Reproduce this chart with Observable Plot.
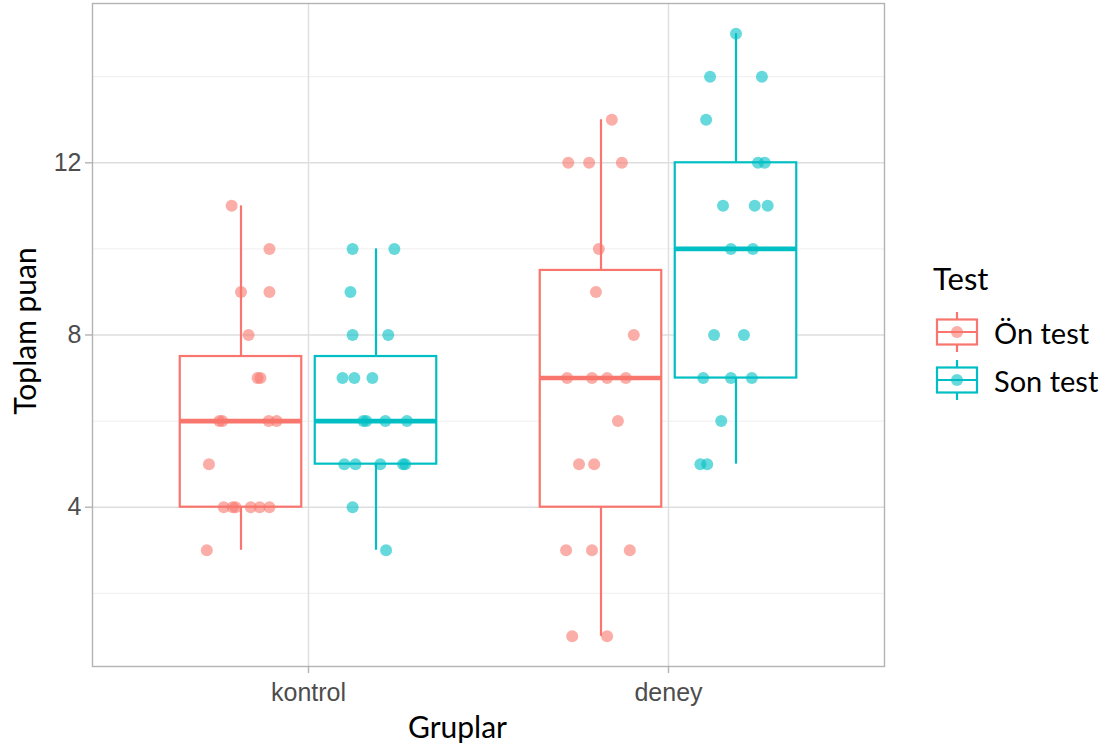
<!DOCTYPE html>
<html><head><meta charset="utf-8">
<script src="https://cdn.jsdelivr.net/npm/d3@7"></script>
<script src="https://cdn.jsdelivr.net/npm/@observablehq/plot@0.6"></script>
<style>
body{margin:0;background:#fff;}
#wrap{position:relative;width:1116px;height:753px;overflow:hidden;}
#legend{position:absolute;left:933px;top:258px;font-family:Lato,"Open Sans",sans-serif;color:#000;}
#legend .title{font-size:31px;line-height:40px;margin-bottom:10px;}
#legend .item{display:flex;align-items:center;height:48px;}
#legend .item span{font-size:29px;margin-left:13px;}
</style></head><body><div id="wrap"><div id="chart"></div><div id="legend"></div></div>
<script>
const groups = ["kontrol", "deney"];
const tests = ["Ön test", "Son test"];
const colors = ["#F8766D", "#00BFC4"];
const yTicks = [4, 8, 12];
const yMinor = [2, 6, 10, 14];

const kontrolOnValues = [11, 10, 9, 9, 8, 7, 7, 6, 6, 6, 6, 5, 4, 4, 4, 4, 4, 4, 3];
const kontrolOnJitter = [-0.026, 0.079, 0.000, 0.079, 0.021, 0.046, 0.054, -0.060, -0.052, 0.077, 0.099, -0.089, -0.048, -0.023, -0.015, 0.027, 0.052, 0.079, -0.095];
const kontrolSonValues = [10, 10, 9, 8, 8, 7, 7, 7, 6, 6, 6, 6, 5, 5, 5, 5, 5, 4, 3];
const kontrolSonJitter = [-0.065, 0.051, -0.071, -0.065, 0.034, -0.093, -0.060, -0.010, -0.035, -0.027, 0.026, 0.086, -0.088, -0.057, 0.012, 0.075, 0.081, -0.065, 0.028];
const deneyOnValues = [13, 12, 12, 12, 10, 9, 8, 7, 7, 7, 7, 6, 5, 5, 3, 3, 3, 1, 1];
const deneyOnJitter = [0.030, -0.091, -0.033, 0.058, -0.006, -0.014, 0.091, -0.094, -0.025, 0.017, 0.069, 0.047, -0.061, -0.019, -0.097, -0.025, 0.080, -0.080, 0.017];
const deneySonValues = [15, 14, 14, 13, 12, 12, 11, 11, 11, 10, 10, 8, 8, 7, 7, 7, 6, 5, 5];
const deneySonJitter = [0.000, -0.072, 0.072, -0.083, 0.061, 0.080, -0.036, 0.052, 0.088, -0.014, 0.047, -0.061, 0.022, -0.091, -0.014, 0.044, -0.041, -0.099, -0.080];

const series = [
  {group: "kontrol", test: "Ön test", values: kontrolOnValues, jitter: kontrolOnJitter},
  {group: "kontrol", test: "Son test", values: kontrolSonValues, jitter: kontrolSonJitter},
  {group: "deney", test: "Ön test", values: deneyOnValues, jitter: deneyOnJitter},
  {group: "deney", test: "Son test", values: deneySonValues, jitter: deneySonJitter}
];

const dodge = 0.75;          // dodge width per category
const boxHalf = dodge / 4 * 0.9;

const rows = [];
const stats = [];
for (const s of series) {
  const gi = groups.indexOf(s.group) + 1;
  const ti = tests.indexOf(s.test);
  const cx = gi + (ti === 0 ? -dodge / 4 : dodge / 4);
  const sorted = s.values.slice().sort(d3.ascending);
  const q1 = d3.quantileSorted(sorted, 0.25);
  const med = d3.quantileSorted(sorted, 0.5);
  const q3 = d3.quantileSorted(sorted, 0.75);
  const iqr = q3 - q1;
  const lo = d3.min(sorted.filter(v => v >= q1 - 1.5 * iqr));
  const hi = d3.max(sorted.filter(v => v <= q3 + 1.5 * iqr));
  stats.push({test: s.test, cx, x1: cx - boxHalf, x2: cx + boxHalf, q1, med, q3, lo, hi});
  s.values.forEach((v, i) => rows.push({test: s.test, value: v, px: cx + s.jitter[i]}));
}

const chart = Plot.plot({
  width: 900,
  height: 753,
  marginLeft: 92,
  marginRight: 16,
  marginTop: 3,
  marginBottom: 87,
  x: {domain: [0.4, 2.6], axis: null},
  y: {domain: [0.3, 15.7], axis: null},
  color: {domain: tests, range: colors},
  style: {fontFamily: "'Liberation Sans', Arial, sans-serif", background: "white", overflow: "visible"},
  marks: [
    Plot.ruleY(yMinor, {stroke: "#EFEFEF", strokeWidth: 1}),
    Plot.ruleY(yTicks, {stroke: "#DEDEDE", strokeWidth: 1.4}),
    Plot.ruleX([1, 2], {stroke: "#DEDEDE", strokeWidth: 1.4}),
    Plot.frame({stroke: "#B3B3B3", strokeWidth: 1.4}),
    Plot.axisY({ticks: yTicks, tickSize: 7, tickPadding: 4, stroke: "#B3B3B3", strokeWidth: 1.4, fill: "#4D4D4D", fontSize: 25, label: null}),
    Plot.axisX({ticks: [1, 2], tickFormat: i => groups[i - 1], tickSize: 7, tickPadding: 10, stroke: "#B3B3B3", strokeWidth: 1.4, fill: "#4D4D4D", fontSize: 25, label: null}),
    Plot.ruleX(stats, {x: "cx", y1: "lo", y2: "q1", stroke: "test", strokeWidth: 2.2}),
    Plot.ruleX(stats, {x: "cx", y1: "q3", y2: "hi", stroke: "test", strokeWidth: 2.2}),
    Plot.rect(stats, {x1: "x1", x2: "x2", y1: "q1", y2: "q3", fill: "white", stroke: "test", strokeWidth: 2.2}),
    Plot.ruleY(stats, {y: "med", x1: "x1", x2: "x2", stroke: "test", strokeWidth: 4.6}),
    Plot.dot(rows, {x: "px", y: "value", r: 6, fill: "test", fillOpacity: 0.6}),
    Plot.text(["Gruplar"], {text: d => d, frameAnchor: "bottom", textAnchor: "middle", dx: -31, dy: 71, fontSize: 30, fontFamily: "Lato", fill: "black"}),
    Plot.text(["Toplam puan"], {text: d => d, frameAnchor: "left", textAnchor: "middle", dx: -66, dy: -4, rotate: -90, fontSize: 30, fontFamily: "Lato", fill: "black"})
  ]
});
document.getElementById("chart").appendChild(chart);

// legend
const legend = d3.select("#legend");
legend.append("div").attr("class", "title").text("Test");
tests.forEach((t, i) => {
  const item = legend.append("div").attr("class", "item");
  const svg = item.append("svg").attr("width", 48).attr("height", 48);
  svg.append("line").attr("x1", 24).attr("x2", 24).attr("y1", 4).attr("y2", 44).attr("stroke", colors[i]).attr("stroke-width", 2.2);
  svg.append("rect").attr("x", 4).attr("y", 11.5).attr("width", 40).attr("height", 25).attr("fill", "white").attr("stroke", colors[i]).attr("stroke-width", 2.2);
  svg.append("line").attr("x1", 4).attr("x2", 44).attr("y1", 24).attr("y2", 24).attr("stroke", colors[i]).attr("stroke-width", 2.2);
  svg.append("circle").attr("cx", 24).attr("cy", 24).attr("r", 6).attr("fill", colors[i]).attr("fill-opacity", 0.6);
  item.append("span").text(t);
});
</script></body></html>
